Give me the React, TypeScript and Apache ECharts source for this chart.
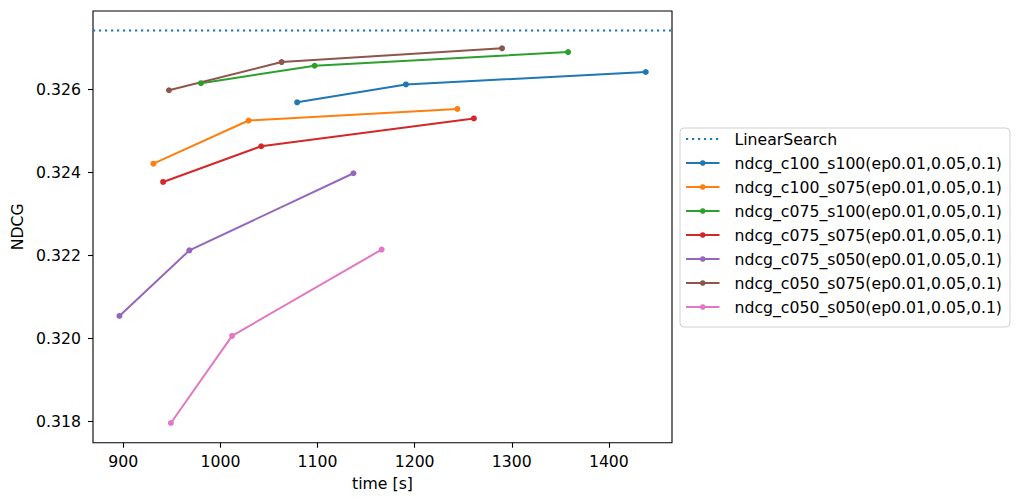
import React, { useEffect, useRef } from "react";
import * as echarts from "echarts";

const xMin = 868.8;
const xMax = 1465;
const yMin = 0.317485;
const yMax = 0.32789;
const xTicks = [900, 1000, 1100, 1200, 1300, 1400];
const yTicks = [0.318, 0.32, 0.322, 0.324, 0.326];

const linearSearchName = "LinearSearch";
const linearSearchValue = 0.32742;

const seriesNames = [
  "ndcg_c100_s100(ep0.01,0.05,0.1)",
  "ndcg_c100_s075(ep0.01,0.05,0.1)",
  "ndcg_c075_s100(ep0.01,0.05,0.1)",
  "ndcg_c075_s075(ep0.01,0.05,0.1)",
  "ndcg_c075_s050(ep0.01,0.05,0.1)",
  "ndcg_c050_s075(ep0.01,0.05,0.1)",
  "ndcg_c050_s050(ep0.01,0.05,0.1)",
];

const c100_s100 = [[1079, 0.32569], [1191, 0.32612], [1438, 0.32642]];
const c100_s075 = [[931, 0.32421], [1029, 0.32525], [1244, 0.32553]];
const c075_s100 = [[980, 0.32615], [1097, 0.32657], [1358, 0.3269]];
const c075_s075 = [[941, 0.32377], [1042, 0.32463], [1261, 0.3253]];
const c075_s050 = [[896, 0.32054], [968, 0.32212], [1137, 0.32398]];
const c050_s075 = [[947, 0.32598], [1063, 0.32666], [1290, 0.32699]];
const c050_s050 = [[949, 0.31796], [1012, 0.32006], [1166, 0.32214]];

const seriesData = [c100_s100, c100_s075, c075_s100, c075_s075, c075_s050, c050_s075, c050_s050];
const colors = ["#1f77b4", "#ff7f0e", "#2ca02c", "#d62728", "#9467bd", "#8c564b", "#e377c2"];

const FONT = "DejaVu Sans";
const FS = 15.7;

export default function App() {
  const ref = useRef<HTMLDivElement>(null);
  useEffect(() => {
    if (!ref.current) return;
    const chart = echarts.init(ref.current, null, { renderer: "svg" });
    const option: any = {
      animation: false,
      backgroundColor: "#ffffff",
      textStyle: { fontFamily: FONT, color: "#000" },
      grid: {
        left: 93,
        right: 352,
        top: 11,
        bottom: 61.3,
        show: true,
        borderColor: "#000",
        borderWidth: 1.1,
        backgroundColor: "transparent",
        outerBoundsMode: "none",
      },
      legend: {
        show: true,
        orient: "vertical",
        left: 680,
        top: 128,
        data: [
          {
            name: linearSearchName,
            itemStyle: { color: "rgba(0,0,0,0)", borderWidth: 0, borderColor: "rgba(0,0,0,0)" },
            lineStyle: { color: "#1f77b4" },
          },
          ...seriesNames,
        ],
        selectedMode: false,
        itemWidth: 33.5,
        itemHeight: 7,
        itemGap: 8,
        padding: [3, 8, 12, 5],
        borderColor: "#d0d0d0",
        borderWidth: 1,
        borderRadius: 4,
        backgroundColor: "rgba(255,255,255,0.8)",
        textStyle: {
          fontFamily: FONT,
          fontSize: FS,
          color: "#000",
          lineHeight: 16,
          padding: [0, 0, 0, 10],
        },
      },
      xAxis: {
        type: "value",
        min: xMin,
        max: xMax,
        name: "time [s]",
        nameLocation: "middle",
        nameGap: 33,
        nameTextStyle: { fontFamily: FONT, fontSize: FS, color: "#000" },
        axisLine: { show: false },
        axisTick: {
          show: true,
          length: 5,
          inside: false,
          lineStyle: { color: "#000", width: 1.1 },
          customValues: xTicks,
        },
        axisLabel: {
          fontFamily: FONT,
          fontSize: FS,
          color: "#000",
          margin: 11,
          customValues: xTicks,
          formatter: (v: number) => String(Math.round(v)),
        },
        splitLine: { show: false },
      },
      yAxis: {
        type: "value",
        min: yMin,
        max: yMax,
        name: "NDCG",
        nameLocation: "middle",
        nameRotate: 90,
        nameGap: 68,
        nameTextStyle: { fontFamily: FONT, fontSize: FS, color: "#000" },
        axisLine: { show: false },
        axisTick: {
          show: true,
          length: 5,
          inside: false,
          lineStyle: { color: "#000", width: 1.1 },
          customValues: yTicks,
        },
        axisLabel: {
          fontFamily: FONT,
          fontSize: FS,
          color: "#000",
          margin: 12,
          customValues: yTicks,
          formatter: (v: number) => v.toFixed(3),
        },
        splitLine: { show: false },
      },
      series: [
        {
          name: linearSearchName,
          type: "line",
          data: [[xMin, linearSearchValue], [xMax, linearSearchValue]],
          symbol: "none",
          lineStyle: { color: "#1f77b4", width: 2, type: [2.2, 3.8], cap: "butt" },
          itemStyle: { color: "#1f77b4" },
          silent: true,
        },
        ...seriesNames.map((name, i) => ({
          name,
          type: "line",
          data: seriesData[i],
          symbol: "circle",
          symbolSize: 6,
          showSymbol: true,
          lineStyle: { color: colors[i], width: 2 },
          itemStyle: { color: colors[i] },
          silent: true,
        })),
      ],
    };
    chart.setOption(option);
    return () => chart.dispose();
  }, []);
  return (
    <div
      ref={ref}
      style={{ position: "fixed", left: 0, top: 0, width: 1024, height: 504 }}
    />
  );
}
